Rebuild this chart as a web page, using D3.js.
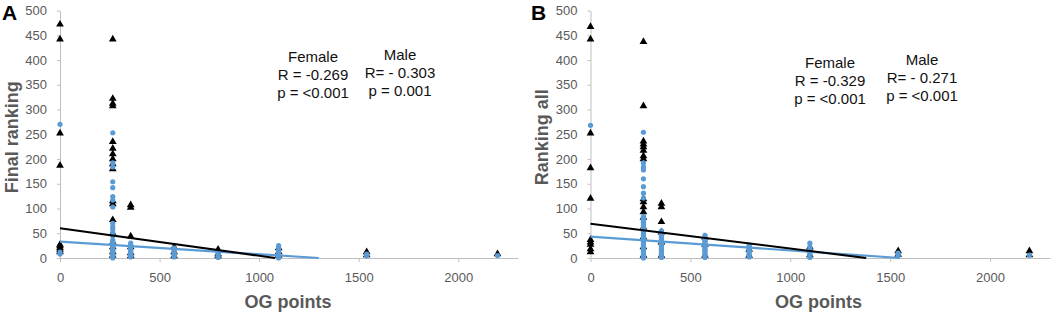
<!DOCTYPE html>
<html>
<head>
<meta charset="utf-8">
<script src="https://cdn.jsdelivr.net/npm/d3@7"></script>
<style>
	html, body { margin: 0; padding: 0; background: #fff; }
	svg text { font-family: "Liberation Sans", Arial, sans-serif; }
	.axis path, .axis line { stroke: #bfbfbf; }
	.axis text { fill: #595959; font-size: 13px; }
</style>
</head>
<body>
<div id="graphic"></div>
<script>
// OG points for each column of athletes
const ogPoints = [0, 265, 355, 573, 794, 1098, 1540, 2197];

// Panel A: final ranking, one list of ranks per OG column
const maleFinal = [
	[470, 440, 250, 185, 25, 22, 18, 14, 10],
	[440, 320, 310, 305, 233, 219, 208, 198, 188, 178, 113, 107, 75, 48, 30, 20, 10, 3],
	[105, 100, 42, 20, 8, 2],
	[20, 10, 2],
	[15, 6, 2],
	[18, 10, 3],
	[10, 4],
	[6]
];
const femaleFinal = [
	[270, 12, 8],
	[253, 192, 184, 154, 142, 124, 117, 103, 70, 63, 58, 51, 45, 36, 33, 30, 27, 24, 21, 18, 15, 12, 9, 6, 3, 0],
	[30, 26, 23, 20, 17, 14, 11, 8, 5, 2],
	[20, 17, 14, 11, 8, 5, 2],
	[13, 10, 7, 4, 1],
	[25, 20, 15, 12, 9, 6, 3, 0],
	[8, 4],
	[5]
];

// Panel B: ranking all
const maleAll = [
	[465, 440, 250, 180, 118, 35, 30, 25, 16, 10],
	[435, 305, 234, 228, 222, 215, 204, 198, 117, 111, 101, 91, 80, 60, 40, 20, 3],
	[108, 101, 71, 50, 30, 3],
	[40, 25, 3],
	[15, 3],
	[20, 15, 4],
	[12, 5],
	[12, 4]
];
const femaleAll = [
	[268],
	[254, 192, 184, 178, 160, 144, 131, 121, 84, 81, 78, 75, 72, 69, 66, 63, 60, 57, 54, 51, 48, 45, 42, 39, 36, 33, 30, 27, 24, 21, 18, 15, 12, 9, 6, 3, 0],
	[55, 52, 49, 46, 43, 40, 37, 34, 31, 28, 25, 22, 19, 16, 13, 10, 7, 4, 1],
	[46, 40, 37, 34, 31, 28, 25, 22, 19, 16, 13, 10, 7, 4, 1],
	[26, 23, 20, 17, 14, 11, 8, 5, 2],
	[30, 22, 19, 16, 13, 10, 7, 4, 1],
	[10, 5],
	[6]
];

// linear trend lines, [og, rank] end points
const trendMaleFinal = [[0, 60], [1080, 0]];
const trendFemaleFinal = [[0, 33], [1300, 0]];
const trendMaleAll = [[0, 69], [1380, 0]];
const trendFemaleAll = [[0, 43], [1550, 0]];

// correlation notes
const femaleStatsFinal = ['Female', 'R = -0.269', 'p = <0.001'];
const maleStatsFinal = ['Male', 'R= - 0.303', 'p = 0.001'];
const femaleStatsAll = ['Female', 'R = -0.329', 'p = <0.001'];
const maleStatsAll = ['Male', 'R= - 0.271', 'p = <0.001'];

const xTicks = [0, 500, 1000, 1500, 2000];
const yTicks = [0, 50, 100, 150, 200, 250, 300, 350, 400, 450, 500];

const maleColour = '#000000';
const femaleColour = '#5b9bd5';

const panels = [
	{
		letter: 'A', yLabel: 'Final ranking',
		male: maleFinal, female: femaleFinal,
		maleTrend: trendMaleFinal, femaleTrend: trendFemaleFinal,
		femaleStats: femaleStatsFinal, maleStats: maleStatsFinal,
		left: 60, right: 518, letterX: 2, labelX: 18,
		femaleNote: { x: 313, y: 62 }, maleNote: { x: 400, y: 60 }
	},
	{
		letter: 'B', yLabel: 'Ranking all',
		male: maleAll, female: femaleAll,
		maleTrend: trendMaleAll, femaleTrend: trendFemaleAll,
		femaleStats: femaleStatsAll, maleStats: maleStatsAll,
		left: 590.5, right: 1050, letterX: 531, labelX: 548,
		femaleNote: { x: 830, y: 68 }, maleNote: { x: 922, y: 65 }
	}
];

const svg = d3.select('#graphic')
	.append('svg')
	.attr('width', 1053)
	.attr('height', 315);

function flatten(values) {
	// turn the per-column lists into {og, rank} points
	return values.flatMap((col, i) => col.map((r) => ({ og: ogPoints[i], rank: r })));
}

function drawPanel(p) {
	const x = d3.scaleLinear().domain([0, 2300]).range([p.left, p.right]);
	const y = d3.scaleLinear().domain([0, 500]).range([258, 10.5]);

	const g = svg.append('g');

	// axes
	g.append('g')
		.attr('class', 'x axis')
		.attr('transform', `translate(0, ${y(0)})`)
		.call(d3.axisBottom(x).tickValues(xTicks).tickFormat(d3.format('d'))
			.tickSize(4).tickSizeOuter(0).tickPadding(11));

	g.append('g')
		.attr('class', 'y axis')
		.attr('transform', `translate(${x(0)}, 0)`)
		.call(d3.axisLeft(y).tickValues(yTicks).tickSize(3).tickSizeOuter(0).tickPadding(10));

	// male triangles
	const tri = d3.symbol().type(d3.symbolTriangle).size(26);
	g.append('g')
		.selectAll('path')
		.data(flatten(p.male))
		.join('path')
		.attr('d', tri)
		.attr('transform', (d) => `translate(${x(d.og)}, ${y(d.rank) - 1})`)
		.attr('fill', maleColour);

	// female dots
	g.append('g')
		.selectAll('circle')
		.data(flatten(p.female))
		.join('circle')
		.attr('cx', (d) => x(d.og))
		.attr('cy', (d) => y(d.rank))
		.attr('r', 2.6)
		.attr('fill', femaleColour);

	// trend lines
	const line = d3.line().x((d) => x(d[0])).y((d) => y(d[1]));
	g.append('path')
		.datum(p.femaleTrend)
		.attr('d', line)
		.attr('fill', 'none')
		.attr('stroke', femaleColour)
		.attr('stroke-width', 2.2);
	g.append('path')
		.datum(p.maleTrend)
		.attr('d', line)
		.attr('fill', 'none')
		.attr('stroke', maleColour)
		.attr('stroke-width', 2);

	// notes
	[[p.femaleStats, p.femaleNote], [p.maleStats, p.maleNote]].forEach(([lines, pos]) => {
		g.append('g')
			.selectAll('text')
			.data(lines)
			.join('text')
			.attr('x', pos.x)
			.attr('y', (d, i) => pos.y + i * 18)
			.attr('text-anchor', 'middle')
			.attr('font-size', 15)
			.attr('fill', '#111')
			.text((d) => d);
	});

	// axis titles
	g.append('text')
		.attr('transform', `translate(${p.labelX}, ${y(250) + 3}) rotate(-90)`)
		.attr('text-anchor', 'middle')
		.attr('font-size', 18)
		.attr('font-weight', 'bold')
		.attr('fill', '#595959')
		.text(p.yLabel);

	g.append('text')
		.attr('x', p.left + 228)
		.attr('y', 308)
		.attr('text-anchor', 'middle')
		.attr('font-size', 18)
		.attr('font-weight', 'bold')
		.attr('fill', '#595959')
		.text('OG points');

	// panel letter
	g.append('text')
		.attr('x', p.letterX)
		.attr('y', 20)
		.attr('font-size', 21)
		.attr('font-weight', 'bold')
		.attr('fill', '#000')
		.text(p.letter);
}

panels.forEach(drawPanel);
</script>
</body>
</html>
